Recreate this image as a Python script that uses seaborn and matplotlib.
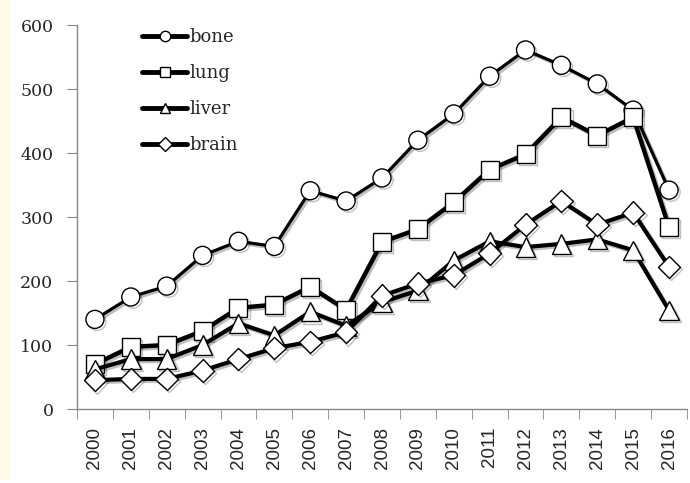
import pandas as pd
import seaborn as sns
import matplotlib
matplotlib.use("Agg")
import matplotlib.pyplot as plt
import matplotlib.patheffects as pe
from matplotlib.patches import Rectangle

years = [str(y) for y in range(2000, 2017)]
bone = [140, 175, 192, 240, 262, 254, 341, 325, 361, 420, 461, 520, 561, 537, 508, 467, 342]
lung = [70, 97, 100, 122, 158, 163, 191, 155, 261, 281, 323, 374, 398, 456, 427, 456, 284]
liver = [62, 78, 78, 100, 134, 115, 152, 130, 167, 185, 232, 262, 253, 258, 265, 248, 154]
brain = [45, 47, 47, 60, 78, 95, 105, 120, 177, 196, 209, 243, 288, 325, 288, 307, 222]

series = {"bone": bone, "lung": lung, "liver": liver, "brain": brain}
markers = {"bone": "o", "lung": "s", "liver": "^", "brain": "D"}
msizes = {"bone": 13, "lung": 13, "liver": 14, "brain": 11.5}
widths = {"bone": 2.3, "lung": 3.2, "liver": 3.0, "brain": 3.0}

rows = []
for name, vals in series.items():
    for i, v in enumerate(vals):
        rows.append({"pos": i, "year": years[i], "value": v, "cancer": name})
data = pd.DataFrame(rows)

sns.set_style("white")
fig = plt.figure(figsize=(6.9, 4.83), dpi=100)
fig.patches.append(Rectangle((0, 3 / 483), 10 / 690, 1, transform=fig.transFigure,
                             facecolor="#fff9e6", edgecolor="none", zorder=0))
ax = fig.add_axes([77 / 690, 74 / 483, 610 / 690, 384 / 483])

shadow = [pe.SimpleLineShadow(offset=(1.5, -1.5), alpha=0.25), pe.Normal()]
for name in series:
    sub = data[data["cancer"] == name]
    sns.lineplot(data=sub, x="pos", y="value", ax=ax, color="black",
                 linewidth=widths[name], marker=markers[name], markersize=msizes[name],
                 markerfacecolor="white", markeredgecolor="black", markeredgewidth=1.0,
                 label=name, path_effects=shadow)

ax.set_xlim(-0.5, 16.5)
ax.set_ylim(0, 600)
ax.set_xlabel("")
ax.set_ylabel("")
ax.set_xticks(range(len(years)))
ax.set_xticklabels(years, rotation=90, family="Liberation Sans", fontsize=13.5)
ax.set_xticks([i - 0.5 for i in range(len(years) + 1)], minor=True)
ax.tick_params(axis="x", which="major", length=0, pad=13)
ax.tick_params(axis="x", which="minor", length=7, color="#888888", direction="out")
ax.set_yticks(range(0, 601, 100))
ax.set_yticklabels([str(v) for v in range(0, 601, 100)], family="DejaVu Serif", fontsize=12.5)
ax.tick_params(axis="y", length=7, color="#888888", direction="out", pad=10, left=True)
ax.tick_params(axis="x", which="minor", bottom=True)
for side in ["top", "right"]:
    ax.spines[side].set_visible(False)
for side in ["left", "bottom"]:
    ax.spines[side].set_color("#888888")
    ax.spines[side].set_linewidth(1.0)

leg = ax.legend(loc="upper left", bbox_to_anchor=(133 / 690, 1 - 19 / 483),
                bbox_transform=fig.transFigure, frameon=False,
                prop={"family": "DejaVu Serif", "size": 13},
                handlelength=2.5, handletextpad=0.1, labelspacing=1.0, borderpad=0)
for line in leg.get_lines():
    line.set_markersize(7.5)
    line.set_linewidth(3.5)
    line.set_path_effects([])

fig.savefig("out.png", dpi=100)
